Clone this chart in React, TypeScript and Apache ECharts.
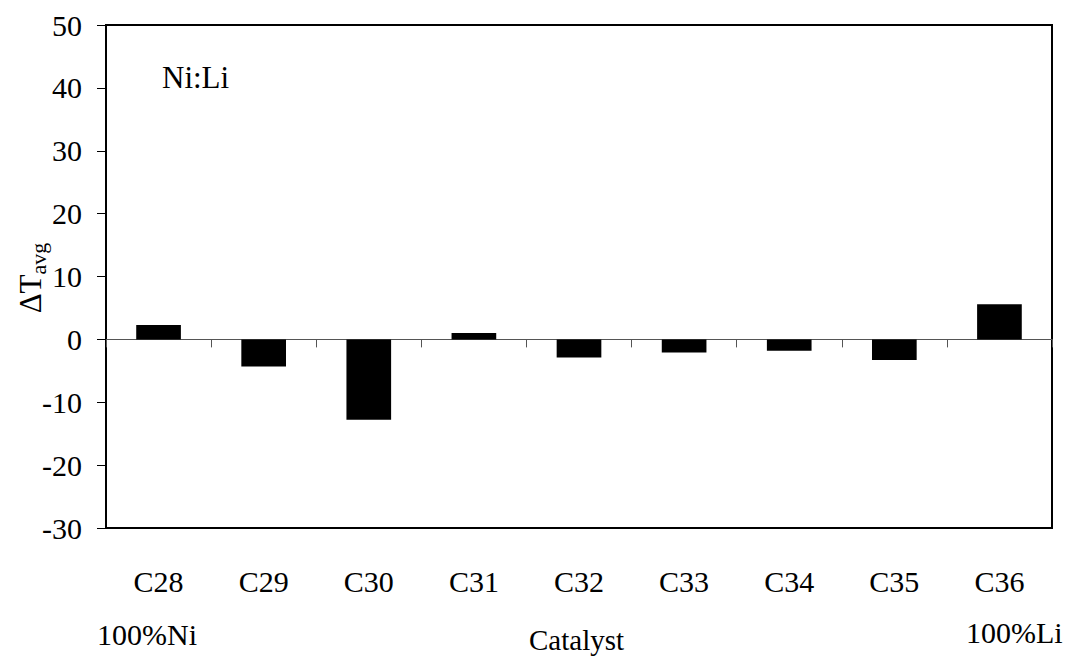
import React, { useEffect, useRef } from "react";
import * as echarts from "echarts";

const categories = ["C28", "C29", "C30", "C31", "C32", "C33", "C34", "C35", "C36"];
const deltaTavg = [2.3, -4.3, -12.8, 1.0, -2.9, -2.1, -1.8, -3.3, 5.6];
const yMin = -30;
const yMax = 50;
const yStep = 10;

const FONT = "'Liberation Serif', 'Times New Roman', serif";

export default function App() {
  const ref = useRef<HTMLDivElement>(null);
  useEffect(() => {
    if (!ref.current) return;
    const chart = echarts.init(ref.current, null, { renderer: "svg" });
    chart.setOption({
      animation: false,
      backgroundColor: "#ffffff",
      grid: {
        left: 106,
        top: 25,
        right: 16,
        bottom: 128,
        show: true,
        borderColor: "#000",
        borderWidth: 2,
        backgroundColor: "transparent",
      },
      xAxis: [
        {
          type: "category",
          data: categories,
          position: "bottom",
          axisLine: { onZero: true, lineStyle: { color: "#555", width: 1 } },
          axisTick: { show: true, length: 8, lineStyle: { color: "#555", width: 1 } },
          axisLabel: { show: false },
          splitLine: { show: false },
        },
        {
          type: "category",
          data: categories,
          position: "bottom",
          axisLine: { show: false, onZero: false },
          axisTick: { show: false },
          axisLabel: {
            show: true,
            margin: 38,
            color: "#000",
            fontFamily: FONT,
            fontSize: 30,
          },
          splitLine: { show: false },
        },
      ],
      yAxis: {
        type: "value",
        min: yMin,
        max: yMax,
        interval: yStep,
        axisLine: { show: true, lineStyle: { color: "#000", width: 2 } },
        axisTick: { show: true, length: 9, lineStyle: { color: "#000", width: 1 } },
        axisLabel: { color: "#000", fontFamily: FONT, fontSize: 30, margin: 24 },
        splitLine: { show: false },
      },
      series: [
        {
          type: "bar",
          data: deltaTavg,
          barWidth: "42.5%",
          itemStyle: { color: "#000" },
        },
      ],
      graphic: [
        {
          type: "text",
          left: 162,
          top: 62,
          style: { text: "Ni:Li", fill: "#000", font: `31px ${FONT}` },
        },
        {
          type: "text",
          x: 30,
          y: 278,
          rotation: Math.PI / 2,
          style: {
            text: "{a|ΔT}{b|avg}",
            fill: "#000",
            align: "center",
            verticalAlign: "middle",
            rich: {
              a: { fontFamily: FONT, fontSize: 31, fill: "#000" },
              b: { fontFamily: FONT, fontSize: 22, fill: "#000", verticalAlign: "bottom", padding: [16, 0, 0, 0] },
            },
          },
        },
        {
          type: "text",
          left: 97,
          top: 619,
          style: { text: "100%Ni", fill: "#000", font: `30px ${FONT}` },
        },
        {
          type: "text",
          left: 529,
          top: 625,
          style: { text: "Catalyst", fill: "#000", font: `29px ${FONT}` },
        },
        {
          type: "text",
          left: 966,
          top: 617,
          style: { text: "100%Li", fill: "#000", font: `30px ${FONT}` },
        },
      ],
    });
    return () => chart.dispose();
  }, []);
  return (
    <div
      ref={ref}
      style={{ position: "fixed", left: 0, top: 0, width: 1068, height: 656 }}
    />
  );
}
